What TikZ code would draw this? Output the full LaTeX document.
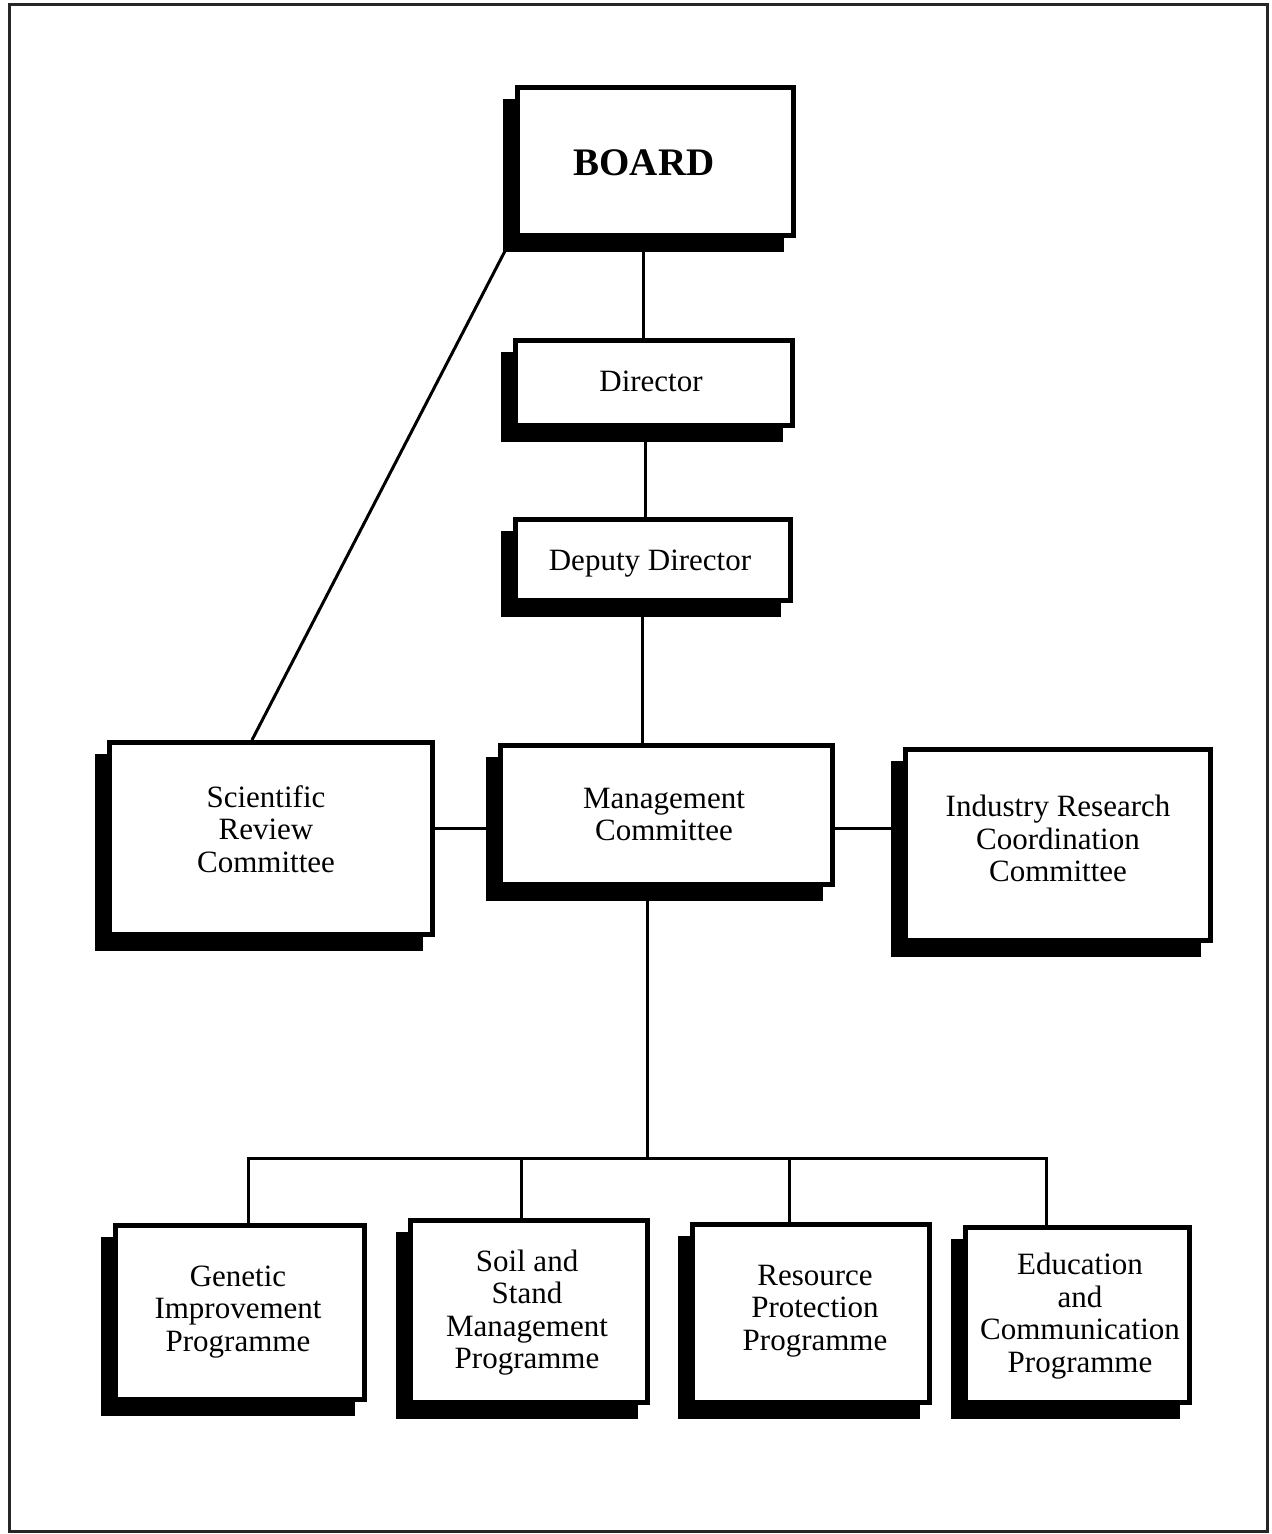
\documentclass[tikz,border=0pt]{standalone}
\usepackage{fontspec}
\setmainfont{Liberation Serif}
\usetikzlibrary{shadows,backgrounds,calc}
\begin{document}
\begin{tikzpicture}[x=0.5pt,y=-0.5pt,
  box/.style={draw=black, line width=2.5pt, fill=white, inner sep=0pt,
    general shadow={fill=black, draw=black, line width=2.5pt, shadow xshift=-6pt, shadow yshift=-7pt}},
  txt/.style={inner sep=0pt, align=center, font=\fontsize{15.5}{16.2}\selectfont},
  conn/.style={line width=1.5pt},
  frame/.style={line width=1.5pt, draw=black!85}]
\useasboundingbox (0,0) rectangle (1271,1534);
\draw[frame] (9,5) rectangle (1267,1531);

% boxes
\node[box, minimum width=138pt, minimum height=74pt] (board) at (655.5,161.5) {};
\node[box, minimum width=138.5pt, minimum height=42.5pt] (director) at (654,383) {};
\node[box, minimum width=137.5pt, minimum height=40.5pt] (deputy) at (653,560) {};
\node[box, minimum width=161.5pt, minimum height=96pt] (sci) at (271,838.5) {};
\node[box, minimum width=166pt, minimum height=69.5pt] (mgmt) at (666.5,815) {};
\node[box, minimum width=152.5pt, minimum height=95.5pt] (ind) at (1058,845) {};
\node[box, minimum width=124.5pt, minimum height=87pt] (gen) at (240,1312.5) {};
\node[box, minimum width=118.5pt, minimum height=91pt] (soil) at (529,1311.5) {};
\node[box, minimum width=118.5pt, minimum height=89pt] (res) at (811,1313.5) {};
\node[box, minimum width=112pt, minimum height=87.5pt] (edu) at (1077.5,1315) {};

% labels
\node[txt, font=\bfseries\fontsize{19.5}{20}\selectfont] (boardt) at (644,162.5) {BOARD};
\node[txt] (directort) at (651,381.5) {Director};
\node[txt] (deputyt) at (650,563.5) {Deputy Director};
\node[txt] (scit) at (266,829) {Scientific\\Review\\Committee};
\node[txt] (mgmtt) at (664,814.5) {Management\\Committee};
\node[txt] (indt) at (1058,838.5) {Industry Research\\Coordination\\Committee};
\node[txt] (gent) at (238,1312) {Genetic\\Improvement\\Programme};
\node[txt] (soilt) at (527,1312.5) {Soil and\\Stand\\Management\\Programme};
\node[txt] (rest) at (815,1311) {Resource\\Protection\\Programme};
\node[txt] (edut) at (1080,1316) {Education\\and\\Communication\\Programme};

% connector guides
\coordinate (v1) at (643,0);
\coordinate (v2) at (645,0);
\coordinate (v3) at (642,0);
\coordinate (h1) at (0,828);
\coordinate (s1) at (252,0);
\coordinate (b0) at (647,1158);
\coordinate (b1) at (248,1158);
\coordinate (b2) at (521,1158);
\coordinate (b3) at (789,1158);
\coordinate (b4) at (1046,1158);

\begin{scope}[on background layer]
\draw[conn] (board.south -| v1) -- (director.north -| v1);
\draw[conn] (director.south -| v2) -- (deputy.north -| v2);
\draw[conn] (deputy.south -| v3) -- (mgmt.north -| v3);
\draw[conn] (sci.east |- h1) -- (mgmt.west |- h1);
\draw[conn] (mgmt.east |- h1) -- (ind.west |- h1);
\draw[conn] (mgmt.south -| b0) -- (b0);
\draw[conn] (gen.north -| b1) -- (b1) -- (b4) -- (edu.north -| b4);
\draw[conn] (soil.north -| b2) -- (b2);
\draw[conn] (res.north -| b3) -- (b3);
\draw[conn] ($(board.south west)+(-10,13)$) -- (sci.north -| s1);
\end{scope}
\end{tikzpicture}
\end{document}
